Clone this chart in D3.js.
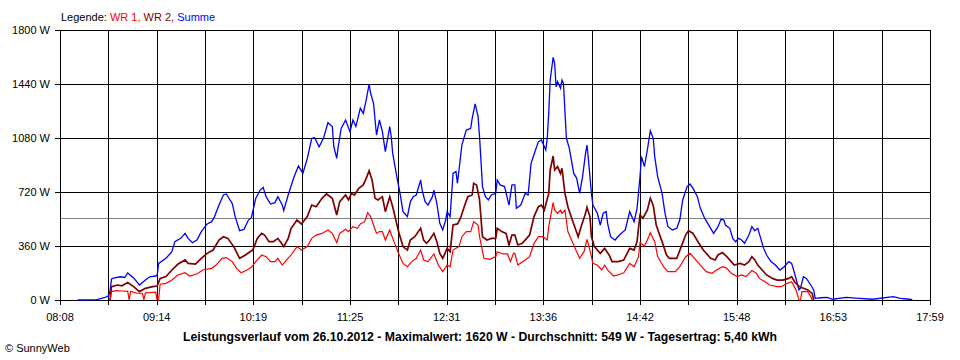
<!DOCTYPE html>
<html><head><meta charset="utf-8">
<script src="https://cdn.jsdelivr.net/npm/d3@7"></script>
<style>
body{margin:0;background:#fff;}
text{font-family:"Liberation Sans",Arial,sans-serif;}
</style></head>
<body><svg id="c" width="960" height="360"></svg>
<script>
// ---- data ----
const xTickLabels = ["08:08","09:14","10:19","11:25","12:31","13:36","14:42","15:48","16:53","17:59"];
const yTicks = [0, 360, 720, 1080, 1440, 1800];
const average = 549;
const titleText = "Leistungsverlauf vom 26.10.2012 - Maximalwert: 1620 W - Durchschnitt: 549 W - Tagesertrag: 5,40 kWh";
const seriesNames = ["WR 1", "WR 2", "Summe"];

const wr1 = [["08:42",0],["08:43",55],["08:46",62],["08:50",60],["08:54",58],["08:55",0],["08:56",58],["09:00",45],["09:04",45],["09:05",0],["09:06",48],["09:10",50],["09:13",52],["09:14",0],["09:15",0],["09:16",105],["09:20",111],["09:24",133],["09:28",167],["09:33",182],["09:36",160],["09:41",173],["09:45",200],["09:51",211],["09:54",233],["09:58",278],["10:01",282],["10:05",256],["10:08",211],["10:11",182],["10:15",200],["10:18",218],["10:21",256],["10:25",300],["10:28",289],["10:31",256],["10:34",256],["10:36",278],["10:39",233],["10:42",267],["10:45",300],["10:49",356],["10:52",333],["10:56",356],["10:59",411],["11:02",433],["11:06",444],["11:10",467],["11:13",444],["11:16",382],["11:18",444],["11:22",471],["11:24",456],["11:27",489],["11:30",478],["11:32",507],["11:35",522],["11:37",582],["11:39",556],["11:41",500],["11:43",444],["11:45",456],["11:47",456],["11:49",400],["11:52",467],["11:54",411],["11:58",311],["12:01",244],["12:04",222],["12:07",256],["12:10",278],["12:13",333],["12:15",267],["12:18",256],["12:22",307],["12:25",233],["12:28",189],["12:31",233],["12:33",222],["12:35",333],["12:39",356],["12:41",422],["12:44",456],["12:47",456],["12:49",522],["12:52",500],["12:53",422],["12:56",278],["13:00",271],["13:04",289],["13:05",322],["13:09",307],["13:12",307],["13:14",256],["13:16",311],["13:17",311],["13:19",233],["13:24",267],["13:27",289],["13:30",378],["13:33",422],["13:36",422],["13:39",400],["13:40",489],["13:43",649],["13:44",600],["13:46",578],["13:48",600],["13:49",578],["13:51",600],["13:53",456],["13:56",389],["13:58",344],["14:01",278],["14:04",322],["14:06",404],["14:08",333],["14:10",244],["14:13",233],["14:16",200],["14:18",233],["14:20",200],["14:24",160],["14:27",167],["14:31",182],["14:35",244],["14:38",222],["14:41",289],["14:42",382],["14:45",360],["14:47",400],["14:49",449],["14:52",389],["14:54",289],["14:58",222],["15:01",189],["15:06",189],["15:09",222],["15:13",289],["15:16",311],["15:19",278],["15:23",233],["15:27",189],["15:31",178],["15:34",200],["15:38",222],["15:41",211],["15:44",178],["15:48",156],["15:51",167],["15:54",156],["15:58",196],["16:01",178],["16:03",144],["16:07",122],["16:10",100],["16:15",89],["16:18",89],["16:22",111],["16:25",122],["16:28",67],["16:30",0],["16:31",0],["16:32",56],["16:36",56],["16:38",22],["16:39",0]];

const wr2 = [["08:42",0],["08:43",89],["08:47",100],["08:50",95],["08:54",116],["08:58",89],["09:02",56],["09:06",78],["09:11",89],["09:14",93],["09:16",144],["09:20",156],["09:24",200],["09:28",238],["09:33",267],["09:35",244],["09:40",240],["09:44",278],["09:48",311],["09:52",333],["09:56",400],["09:59",422],["10:02",411],["10:06",356],["10:10",278],["10:14",300],["10:17",322],["10:19",333],["10:22",411],["10:25",444],["10:27",433],["10:30",389],["10:33",389],["10:36",411],["10:40",356],["10:43",411],["10:45",478],["10:49",533],["10:52",507],["10:56",556],["10:59",633],["11:02",622],["11:06",678],["11:09",707],["11:13",678],["11:16",567],["11:18",656],["11:22",700],["11:24",667],["11:26",711],["11:28",700],["11:31",744],["11:34",767],["11:36",811],["11:38",862],["11:40",800],["11:42",678],["11:44",667],["11:47",689],["11:49",589],["11:52",689],["11:54",622],["11:58",456],["12:01",356],["12:04",333],["12:06",400],["12:09",422],["12:13",478],["12:15",400],["12:17",378],["12:19",400],["12:22",444],["12:24",389],["12:26",311],["12:28",278],["12:31",344],["12:33",322],["12:35",500],["12:38",507],["12:40",544],["12:43",633],["12:45",689],["12:48",700],["12:49",778],["12:51",767],["12:53",667],["12:55",422],["12:58",400],["13:01",411],["13:04",411],["13:05",478],["13:08",456],["13:11",444],["13:13",367],["13:15",433],["13:17",433],["13:19",367],["13:22",378],["13:25",411],["13:27",433],["13:30",556],["13:33",622],["13:35",633],["13:37",600],["13:40",711],["13:41",867],["13:43",960],["13:44",867],["13:46",889],["13:48",844],["13:49",878],["13:51",711],["13:53",622],["13:56",533],["13:58",478],["14:00",422],["14:02",489],["14:05",578],["14:06",618],["14:08",556],["14:09",422],["14:11",356],["14:15",311],["14:18",344],["14:21",300],["14:23",256],["14:27",256],["14:31",267],["14:35",344],["14:38",333],["14:40",389],["14:42",567],["14:44",545],["14:47",600],["14:49",678],["14:51",630],["14:53",500],["14:57",389],["15:00",300],["15:02",278],["15:07",278],["15:10",356],["15:13",433],["15:15",462],["15:18",444],["15:22",378],["15:25",333],["15:30",278],["15:33",267],["15:35",300],["15:38",316],["15:41",289],["15:44",256],["15:46",233],["15:50",244],["15:53",233],["15:56",256],["15:58",289],["16:00",267],["16:02",233],["16:05",200],["16:08",167],["16:12",144],["16:15",133],["16:19",133],["16:23",144],["16:25",156],["16:27",122],["16:30",89],["16:33",78],["16:36",67],["16:39",44],["16:40",0]];

const summe = [["08:20",0],["08:33",3],["08:38",15],["08:41",28],["08:42",60],["08:43",140],["08:45",147],["08:49",155],["08:52",150],["08:54",180],["08:58",147],["09:02",100],["09:06",133],["09:09",155],["09:13",160],["09:14",165],["09:15",244],["09:20",278],["09:24",322],["09:26",389],["09:30",411],["09:33",444],["09:35",411],["09:38",382],["09:41",400],["09:44",456],["09:48",507],["09:51",522],["09:53",556],["09:56",633],["09:59",700],["10:01",707],["10:05",644],["10:07",556],["10:10",462],["10:13",471],["10:16",533],["10:18",549],["10:21",678],["10:24",733],["10:26",751],["10:28",689],["10:31",640],["10:34",649],["10:36",689],["10:39",633],["10:40",596],["10:43",700],["10:47",822],["10:50",893],["10:53",844],["10:56",944],["10:59",1078],["11:01",1082],["11:04",1022],["11:07",1078],["11:10",1182],["11:13",1156],["11:14",1022],["11:16",944],["11:17",1022],["11:19",1144],["11:22",1200],["11:25",1122],["11:27",1200],["11:29",1156],["11:32",1278],["11:34",1244],["11:36",1333],["11:38",1440],["11:39",1378],["11:41",1311],["11:43",1100],["11:45",1200],["11:47",1122],["11:49",989],["11:52",1156],["11:53",1089],["11:54",978],["11:57",811],["11:59",711],["12:01",589],["12:04",556],["12:06",656],["12:08",689],["12:10",700],["12:13",800],["12:14",733],["12:16",656],["12:18",633],["12:21",689],["12:22",733],["12:24",644],["12:26",511],["12:28",467],["12:30",533],["12:31",589],["12:33",556],["12:35",844],["12:37",856],["12:38",778],["12:41",1033],["12:44",1133],["12:47",1144],["12:48",1211],["12:50",1307],["12:52",1222],["12:53",1089],["12:55",756],["12:57",689],["12:59",667],["13:01",700],["13:04",711],["13:05",800],["13:07",767],["13:10",756],["13:13",633],["13:15",767],["13:17",767],["13:18",611],["13:21",633],["13:24",711],["13:26",700],["13:28",911],["13:31",1000],["13:33",1056],["13:35",1067],["13:38",1000],["13:39",1078],["13:40",1244],["13:41",1467],["13:43",1618],["13:44",1578],["13:45",1422],["13:46",1456],["13:48",1411],["13:49",1467],["13:50",1444],["13:52",1078],["13:54",1011],["13:57",844],["13:59",811],["14:01",711],["14:03",822],["14:05",978],["14:06",1033],["14:07",933],["14:09",711],["14:10",633],["14:13",578],["14:15",500],["14:17",578],["14:19",589],["14:20",511],["14:22",422],["14:25",400],["14:28",433],["14:32",467],["14:35",589],["14:38",522],["14:40",611],["14:42",822],["14:43",956],["14:45",889],["14:47",1000],["14:49",1129],["14:51",1078],["14:52",956],["14:54",822],["14:57",711],["14:59",578],["15:01",489],["15:04",467],["15:07",478],["15:09",533],["15:11",667],["15:14",756],["15:16",773],["15:18",744],["15:21",689],["15:23",611],["15:26",544],["15:30",478],["15:32",444],["15:35",489],["15:37",538],["15:39",533],["15:40",500],["15:43",478],["15:45",411],["15:47",389],["15:49",411],["15:51",400],["15:53",378],["15:56",433],["15:58",489],["16:00",462],["16:02",478],["16:04",411],["16:06",344],["16:08",300],["16:11",256],["16:14",233],["16:17",200],["16:20",222],["16:23",256],["16:25",244],["16:27",178],["16:30",67],["16:31",78],["16:33",155],["16:35",144],["16:38",100],["16:40",67],["16:41",11],["16:45",15],["16:49",18],["16:53",5],["17:02",18],["17:11",11],["17:20",5],["17:34",22],["17:39",11],["17:45",5],["17:47",3]];

// ---- drawing ----
const svg = d3.select("#c");
const L = 60, R = 930, T = 30, B = 300;
const parse = d3.timeParse("%H:%M");
const t0 = parse(xTickLabels[0]), t1 = parse(xTickLabels[xTickLabels.length - 1]);
const x = d3.scaleTime().domain([t0, t1]).range([L, R]);
const y = d3.scaleLinear().domain([0, 1800]).range([B, T]);
const snap = v => Math.round(v) + 0.5;

const colors = {wr1: "#ff0000", wr2: "#800000", sum: "#0000ff"};

// average line
svg.append("line").attr("x1", L).attr("x2", R)
  .attr("y1", snap(y(average))).attr("y2", snap(y(average)))
  .attr("stroke", "#808080").attr("stroke-width", 1).attr("shape-rendering", "crispEdges");

// grid
const nSteps = (xTickLabels.length - 1) * 2;
const gridTimes = d3.range(nSteps + 1).map(i => new Date(+t0 + i * (t1 - t0) / nSteps));
const g = svg.append("g").attr("shape-rendering", "crispEdges").attr("stroke", "#000").attr("stroke-width", 1);
gridTimes.forEach(t => {
  const xx = snap(x(t));
  g.append("line").attr("x1", xx).attr("x2", xx).attr("y1", T).attr("y2", B + 5);
});
yTicks.forEach(v => {
  const yy = snap(y(v));
  g.append("line").attr("x1", L - 5).attr("x2", R + 1).attr("y1", yy).attr("y2", yy);
});

// y labels
svg.append("g").selectAll("text").data(yTicks).join("text")
  .attr("x", 50).attr("y", d => y(d) + 4).attr("text-anchor", "end")
  .attr("font-size", 11).attr("fill", "#000").text(d => d + " W");

// x labels
svg.append("g").selectAll("text").data(xTickLabels).join("text")
  .attr("x", (d, i) => x(gridTimes[i * 2])).attr("y", 321).attr("text-anchor", "middle")
  .attr("font-size", 11).attr("fill", "#000").text(d => d);

// series lines
const line = d3.line().x(d => x(parse(d[0]))).y(d => y(d[1]));
svg.append("path").datum(summe).attr("d", line).attr("fill", "none")
  .attr("stroke", colors.sum).attr("stroke-width", 1.3).attr("stroke-linejoin", "miter");
svg.append("path").datum(wr2).attr("d", line).attr("fill", "none")
  .attr("stroke", colors.wr2).attr("stroke-width", 1.7);
svg.append("path").datum(wr1).attr("d", line).attr("fill", "none")
  .attr("stroke", colors.wr1).attr("stroke-width", 1.2);

// legend
const lg = svg.append("text").attr("x", 61).attr("y", 21).attr("font-size", 11);
lg.append("tspan").attr("fill", "#000").text("Legende: ");
lg.append("tspan").attr("fill", colors.wr1).text(seriesNames[0] + ", ");
lg.append("tspan").attr("fill", colors.wr2).text(seriesNames[1] + ", ");
lg.append("tspan").attr("fill", colors.sum).text(seriesNames[2]);

// title
svg.append("text").attr("x", 480).attr("y", 341).attr("text-anchor", "middle")
  .attr("font-size", 12).attr("font-weight", "bold").attr("fill", "#000")
  .attr("textLength", 594).attr("lengthAdjust", "spacingAndGlyphs")
  .text(titleText);

// footer
svg.append("text").attr("x", 5).attr("y", 352).attr("font-size", 11).attr("fill", "#000").text("© SunnyWeb");
</script>
</body></html>
